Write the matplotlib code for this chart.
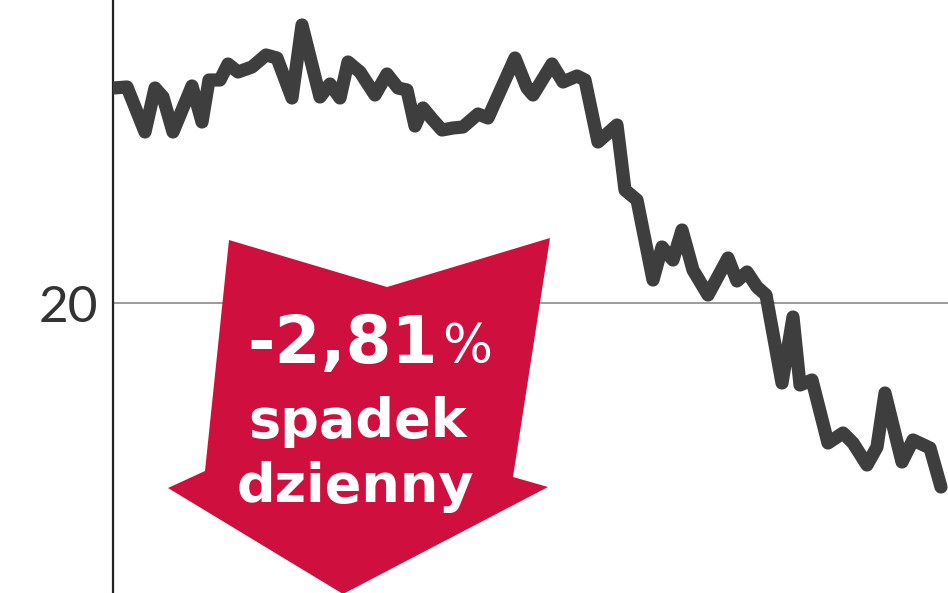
import matplotlib
matplotlib.use("Agg")
import matplotlib.pyplot as plt
from matplotlib.patches import Polygon

# notowania (dzien, kurs)
days = [0, 3.5, 8, 10.5, 12.5, 15, 19.75, 22.25, 24, 26.75, 28.75, 31.25, 34.75,
        38.25, 41, 44.75, 47.25, 51.75, 54.25, 56.75, 58.75, 61.75, 65.5, 68.5,
        71.25, 73.5, 75.5, 77.5, 80, 82.25, 85, 87.5, 91.25, 93.75, 100.5, 103.5,
        105, 109.75, 112.5, 116, 118, 121.25, 126, 128, 131, 135, 137.25, 140,
        142.25, 145, 148.75, 153.75, 156, 158.5, 161, 163.25, 167.25, 170, 171.75,
        174.75, 178.75, 182.5, 185, 188.5, 191, 193, 197.25, 200, 204.25, 207]
price = [22.15, 22.16, 21.71, 22.15, 22.06, 21.71, 22.17, 21.81, 22.23, 22.23,
         22.39, 22.31, 22.36, 22.48, 22.45, 22.05, 22.78, 22.06, 22.19, 22.05,
         22.41, 22.31, 22.08, 22.29, 22.15, 22.13, 21.77, 21.95, 21.83, 21.73,
         21.75, 21.76, 21.89, 21.85, 22.45, 22.15, 22.08, 22.39, 22.21, 22.27,
         22.23, 21.61, 21.78, 21.13, 21.03, 20.23, 20.56, 20.43, 20.73, 20.33,
         20.08, 20.45, 20.22, 20.31, 20.16, 20.08, 19.2, 19.86, 19.18, 19.23,
         18.6, 18.7, 18.6, 18.38, 18.56, 19.1, 18.41, 18.63, 18.55, 18.16]
yticks = [20]
ytick_labels = ["20"]
change_label = "-2,81"
line1 = "spadek"
line2 = "dzienny"

W, H = 948, 593
fig = plt.figure(figsize=(W / 100, H / 100), dpi=100)
fig.patch.set_facecolor("white")
ax = fig.add_axes([113 / W, 0, 1 - 113 / W, 1])
ax.set_xlim(0, 208.75)
ax.set_ylim(17.10, 23.03)

for s in ["top", "right", "bottom"]:
    ax.spines[s].set_visible(False)
ax.spines["left"].set_color("#222222")
ax.spines["left"].set_linewidth(1.6)
ax.set_xticks([])
ax.set_yticks(yticks)
ax.set_yticklabels(ytick_labels, fontsize=37, color="#333333",
                   fontfamily=["Lato", "DejaVu Sans"], fontweight="normal")
ax.tick_params(axis="y", length=0, pad=11)
ax.grid(axis="y", color="#8a8a8a", linewidth=1.2)
ax.set_axisbelow(True)

ax.plot(days, price, color="#3e3e3e", linewidth=9.5,
        solid_joinstyle="round", solid_capstyle="round", zorder=3)

# czerwona strzalka
def fp(x, y):
    return (x / W, 1 - y / H)

pts = [fp(229, 240), fp(387, 287), fp(550, 238), fp(513, 477), fp(548, 487),
       fp(343, 594), fp(168, 488), fp(205, 471)]
arrow = Polygon(pts, closed=True, facecolor="#cf0f3d", edgecolor="none",
                transform=fig.transFigure, zorder=5)
fig.add_artist(arrow)

fig.text(247 / W, 1 - 363 / H, change_label, color="white", fontsize=47.5,
         fontweight="bold", fontfamily="DejaVu Sans", ha="left", va="baseline",
         zorder=6)
fig.text(442 / W, 1 - 362 / H, "%", color="white", fontsize=38,
         fontfamily="DejaVu Sans", ha="left", va="baseline", zorder=6)
fig.text(358 / W, 1 - 437 / H, line1, color="white", fontsize=39,
         fontweight="bold", fontfamily="DejaVu Sans", ha="center", va="baseline",
         zorder=6)
fig.text(355 / W, 1 - 502 / H, line2, color="white", fontsize=39,
         fontweight="bold", fontfamily="DejaVu Sans", ha="center", va="baseline",
         zorder=6)

fig.savefig("out.png", dpi=100, facecolor="white")
